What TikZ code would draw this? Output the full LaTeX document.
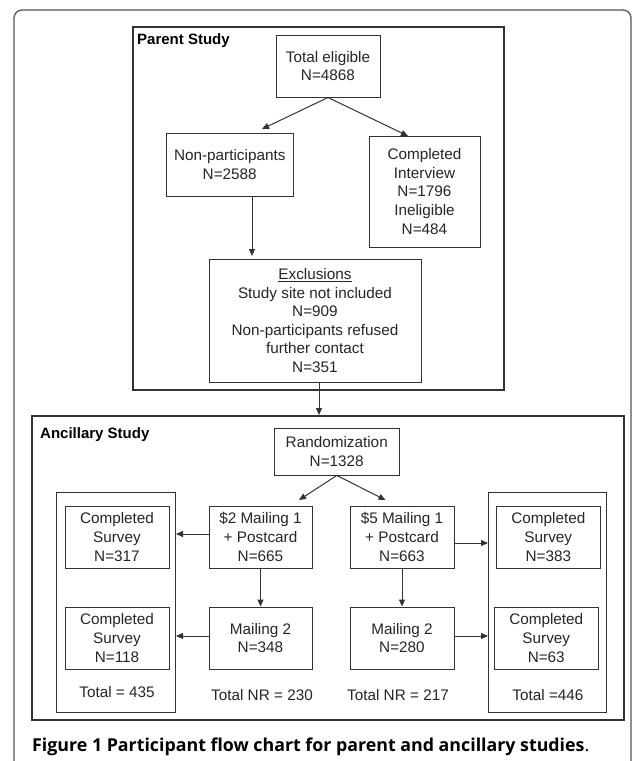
\documentclass[tikz,border=0pt]{standalone}
\usepackage{fontspec}
\setmainfont{Liberation Sans}
\newfontfamily\capfont{Open Sans}
\usetikzlibrary{arrows.meta}
\definecolor{lc}{HTML}{333333}
\definecolor{fc}{HTML}{555555}
\begin{document}
\begin{tikzpicture}[x=1pt,y=-1pt,
  box/.style 2 args={draw=lc, line width=1pt, minimum width=#1, minimum height=#2,
    inner sep=0pt, align=center, font=\fontsize{15.3}{18.6}\selectfont, text=black!85},
  frame/.style={draw=fc, line width=1.3pt},
  grp/.style={draw=lc, line width=1.1pt},
  arr/.style={draw=lc, line width=1pt, -{Triangle[length=7pt,width=6pt]}},
  lbl/.style={inner sep=0pt, font=\fontsize{15.3}{18}\selectfont, text=black!85},
  head/.style={inner sep=0pt, anchor=west, font=\fontsize{15}{18}\selectfont\bfseries},
  captxt/.style={inner sep=0pt, anchor=base west, font=\capfont\fontsize{17.8}{20}\selectfont}]
\useasboundingbox (0,0) rectangle (633,761);
\clip (0,0) rectangle (633,761);
\fill[white] (0,0) rectangle (633,761);
% outer frame
\draw[frame, rounded corners=8pt] (14,800) -- (14,10) -- (631,10) -- (631,800);
% group boxes
\node[grp, minimum width=371pt, minimum height=363pt, inner sep=0pt] (parent) at (318.5,208.5) {};
\node[head] (parentlbl) at (137,41) {Parent Study};
\node[grp, minimum width=592pt, minimum height=304pt, inner sep=0pt] (anc) at (328,568) {};
\node[head] (anclbl) at (40,435) {Ancillary Study};
% parent study nodes
\node[box={104pt}{62pt}] (te) at (328,66) {Total eligible\\N=4868};
\node[box={127.5pt}{63pt}] (np) at (229.75,164.5) {Non-participants\\N=2588};
\node[box={111pt}{111pt}] (ci) at (424.5,191.5) {Completed\\Interview\\N=1796\\Ineligible\\N=484};
\node[box={212pt}{123pt}] (ex) at (315,320.5) {\underline{Exclusions}\\Study site not included\\N=909\\Non-participants refused\\further contact\\N=351};
\coordinate (a1) at (262,129);
\coordinate (a2) at (408,136);
\coordinate (a3) at (252,256);
\coordinate (a4) at (319,415);
\draw[arr] (te.south) -- (a1);
\draw[arr] (te.south) -- (a2);
\draw[arr] (np.south -| a3) -- (a3);
\draw[arr] (ex.south -| a4) -- (a4);
% ancillary study nodes
\node[box={124.5pt}{47pt}] (rand) at (336.75,451.5) {Randomization\\N=1328};
\node[grp, draw=lc, line width=1pt, minimum width=118.5pt, minimum height=220pt, inner sep=0pt] (lo) at (115.75,602) {};
\node[grp, draw=lc, line width=1pt, minimum width=118pt, minimum height=220pt, inner sep=0pt] (ro) at (547,602) {};
\node[box={104pt}{62pt}] (l1) at (117,537) {Completed\\Survey\\N=317};
\node[box={104pt}{62pt}] (l2) at (117,638) {Completed\\Survey\\N=118};
\node[box={103pt}{62pt}] (m1) at (260.5,537) {\$2 Mailing 1\\+ Postcard\\N=665};
\node[box={103pt}{62pt}] (m2) at (260.5,638) {Mailing 2\\N=348};
\node[box={104pt}{62pt}] (f1) at (402,537) {\$5 Mailing 1\\+ Postcard\\N=663};
\node[box={104pt}{62pt}] (f2) at (402,638) {Mailing 2\\N=280};
\node[box={103.5pt}{62pt}] (r1) at (548.3,537) {Completed\\Survey\\N=383};
\node[box={103.5pt}{62pt}] (r2) at (546.25,638) {Completed\\Survey\\N=63};
\coordinate (b1) at (299,500);
\coordinate (b2) at (385.5,500);
\coordinate (c1) at (176,534);
\coordinate (c2) at (176,636);
\coordinate (c3) at (488,543);
\coordinate (c4) at (488,636);
\draw[arr] (rand.south) -- (b1);
\draw[arr] (rand.south) -- (b2);
\draw[arr] (m1.west |- c1) -- (c1);
\draw[arr] (m2.west |- c2) -- (c2);
\draw[arr] (f1.east |- c3) -- (c3);
\draw[arr] (f2.east |- c4) -- (c4);
\draw[arr] (m1.south) -- (m2.north);
\draw[arr] (f1.south) -- (f2.north);
\node[lbl] (t1) at (117,692) {Total = 435};
\node[lbl] (t2) at (262,695) {Total NR = 230};
\node[lbl] (t3) at (398,695) {Total NR = 217};
\node[lbl] (t4) at (548,695) {Total =446};
% caption
\node[captxt] (caption) at (32,751) {\textbf{Figure 1 Participant flow chart for parent and ancillary studies}.};
\end{tikzpicture}
\end{document}
